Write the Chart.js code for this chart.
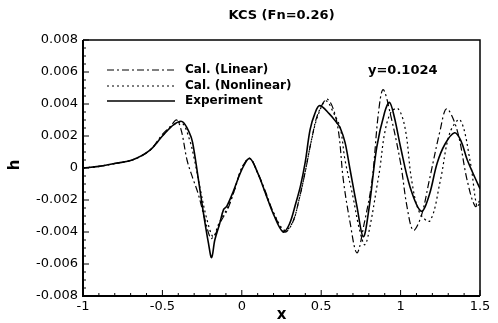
<!DOCTYPE html>
<html>
<head>
<meta charset="utf-8">
<script src="https://cdn.jsdelivr.net/npm/chart.js@4.4.1/dist/chart.umd.min.js"></script>
<style>
  html, body { margin: 0; padding: 0; background: #fff; }
  #wrap { width: 498px; height: 323px; }
</style>
</head>
<body>
<div id="wrap"><canvas id="chart"></canvas></div>
<script>
// Données (x, h)
const expX = [-1, -0.9, -0.79, -0.69, -0.58, -0.5, -0.43, -0.375, -0.33, -0.31, -0.275, -0.245, -0.21, -0.19, -0.17, -0.14, -0.115, -0.095, -0.055, 0.005, 0.05, 0.1, 0.15, 0.2, 0.26, 0.3, 0.34, 0.37, 0.4, 0.43, 0.46, 0.49, 0.55, 0.6, 0.62, 0.65, 0.68, 0.725, 0.765, 0.8, 0.85, 0.9, 0.93, 0.96, 1.0, 1.06, 1.13, 1.18, 1.23, 1.28, 1.34, 1.38, 1.42, 1.5];
const expH = [0, 0.0001, 0.0003, 0.0005, 0.0011, 0.002, 0.0027, 0.0029, 0.0022, 0.0016, -0.0006, -0.0026, -0.0047, -0.0056, -0.0045, -0.0035, -0.0026, -0.0024, -0.0015, 0, 0.0006, -0.0003, -0.0016, -0.0029, -0.004, -0.0035, -0.0022, -0.0011, 0.0004, 0.0024, 0.0034, 0.0039, 0.0034, 0.0028, 0.0025, 0.0016, 0, -0.0024, -0.0043, -0.0026, 0.0013, 0.0035, 0.0041, 0.0032, 0.0013, -0.0012, -0.0027, -0.0017, 0.0003, 0.0015, 0.0022, 0.0017, 0.0005, -0.0013];

const linX = [-1, -0.9, -0.79, -0.69, -0.58, -0.5, -0.45, -0.41, -0.38, -0.345, -0.31, -0.275, -0.23, -0.195, -0.17, -0.13, -0.09, -0.05, 0, 0.05, 0.1, 0.15, 0.2, 0.27, 0.32, 0.36, 0.4, 0.44, 0.48, 0.54, 0.6, 0.64, 0.68, 0.725, 0.77, 0.82, 0.86, 0.89, 0.935, 1.0, 1.04, 1.08, 1.13, 1.18, 1.25, 1.29, 1.355, 1.42, 1.47, 1.5];
const linH = [0, 0.0001, 0.0003, 0.0005, 0.0011, 0.0021, 0.0026, 0.003, 0.0023, 0.0005, -0.0006, -0.0016, -0.0033, -0.0044, -0.0042, -0.0033, -0.0026, -0.0015, 0, 0.0006, -0.0003, -0.0015, -0.0028, -0.004, -0.0034, -0.002, -0.0002, 0.0018, 0.0034, 0.0043, 0.0028, -0.0008, -0.0033, -0.0053, -0.0035, -0.0008, 0.0034, 0.0049, 0.0034, 0.0003, -0.0024, -0.0039, -0.003, -0.0008, 0.0024, 0.0037, 0.0024, -0.0008, -0.0024, -0.002];

const nonX = [-1, -0.9, -0.79, -0.69, -0.58, -0.5, -0.43, -0.375, -0.33, -0.3, -0.26, -0.22, -0.18, -0.15, -0.12, -0.09, -0.05, 0, 0.05, 0.1, 0.15, 0.2, 0.27, 0.32, 0.36, 0.4, 0.44, 0.48, 0.53, 0.58, 0.62, 0.65, 0.7, 0.74, 0.775, 0.81, 0.85, 0.87, 0.9, 0.94, 0.985, 1.03, 1.07, 1.12, 1.185, 1.25, 1.31, 1.375, 1.44, 1.48, 1.5];
const nonH = [0, 0.0001, 0.0003, 0.0005, 0.0011, 0.002, 0.0027, 0.0028, 0.0018, 0.0006, -0.0014, -0.0032, -0.0043, -0.0036, -0.003, -0.0025, -0.0015, 0, 0.0006, -0.0003, -0.0016, -0.0028, -0.0039, -0.0034, -0.002, -0.0002, 0.0018, 0.0033, 0.0042, 0.0034, 0.0025, 0.0005, -0.0018, -0.0038, -0.0048, -0.0035, -0.0012, 0, 0.0022, 0.0035, 0.0037, 0.0024, -0.0008, -0.0028, -0.0033, -0.0008, 0.0022, 0.003, 0.0003, -0.0024, -0.0022];

const yTicks = [-0.008, -0.006, -0.004, -0.002, 0, 0.002, 0.004, 0.006, 0.008];
const xTicks = [-1, -0.5, 0, 0.5, 1, 1.5];

const titleText = 'KCS (Fn=0.26)';
const noteText = 'y=0.1024';

function pts(xs, ys) {
    return xs.map((x, i) => ({ x: x, y: ys[i] }));
}

const FONT = 'DejaVu Sans';

const datasets = [
    { label: 'Cal. (Linear)', data: pts(linX, linH), borderDash: [7, 3, 2, 3], borderWidth: 1.2 },
    { label: 'Cal. (Nonlinear)', data: pts(nonX, nonH), borderDash: [2, 3], borderWidth: 1.2 },
    { label: 'Experiment', data: pts(expX, expH), borderDash: [], borderWidth: 1.6 }
].map(d => Object.assign(d, {
    borderColor: '#000',
    pointRadius: 0,
    tension: 0.35,
    fill: false
}));

// Cadre, graduations, titres et légende dessinés à la main
const decor = {
    id: 'decor',
    afterDraw(chart) {
        const ctx = chart.ctx;
        const a = chart.chartArea;
        const xs = chart.scales.x, ys = chart.scales.y;
        ctx.save();
        ctx.strokeStyle = '#000';
        ctx.lineWidth = 2;
        ctx.beginPath();
        ctx.moveTo(a.left, a.top); ctx.lineTo(a.left, a.bottom); ctx.lineTo(a.right, a.bottom);
        ctx.stroke();
        ctx.lineWidth = 1.5;
        ctx.beginPath();
        ctx.moveTo(a.left, a.top); ctx.lineTo(a.right, a.top); ctx.lineTo(a.right, a.bottom);
        ctx.stroke();

        // graduations vers l'intérieur
        ctx.lineWidth = 1;
        for (let v = -8; v <= 8; v += 0.5) {
            const py = ys.getPixelForValue(v / 1000);
            const len = (v % 2 === 0) ? 6 : 3;
            ctx.beginPath(); ctx.moveTo(a.left, py); ctx.lineTo(a.left + len, py); ctx.stroke();
        }
        for (let k = 0; k <= 25; k++) {
            const px = xs.getPixelForValue(-1 + k * 0.1);
            const len = (k % 5 === 0) ? 6 : 3;
            ctx.beginPath(); ctx.moveTo(px, a.bottom); ctx.lineTo(px, a.bottom - len); ctx.stroke();
        }

        ctx.fillStyle = '#000';
        ctx.textBaseline = 'middle';
        ctx.textAlign = 'center';
        ctx.font = 'bold 13px "' + FONT + '"';
        ctx.fillText(titleText, (a.left + a.right) / 2, 16);
        ctx.font = 'bold 15px "' + FONT + '"';
        ctx.fillText('x', (a.left + a.right) / 2, 315);
        ctx.save();
        ctx.translate(15, 165);
        ctx.rotate(-Math.PI / 2);
        ctx.fillText('h', 0, 0);
        ctx.restore();

        // légende
        ctx.textAlign = 'left';
        ctx.font = 'bold 12px "' + FONT + '"';
        const rows = [70, 86, 101];
        chart.data.datasets.forEach((d, i) => {
            ctx.save();
            ctx.lineWidth = d.borderWidth;
            ctx.setLineDash(d.borderDash);
            ctx.beginPath(); ctx.moveTo(107, rows[i]); ctx.lineTo(175, rows[i]); ctx.stroke();
            ctx.restore();
            ctx.fillText(d.label, 185, rows[i]);
        });
        ctx.font = 'bold 13px "' + FONT + '"';
        ctx.fillText(noteText, 368, 71);
        ctx.restore();
    }
};

new Chart(document.getElementById('chart'), {
    type: 'line',
    data: { datasets: datasets },
    options: {
        responsive: true,
        maintainAspectRatio: false,
        animation: false,
        layout: { padding: { left: 0, right: 18, top: 40, bottom: 0 } },
        plugins: { legend: { display: false }, tooltip: { enabled: false } },
        scales: {
            x: {
                type: 'linear',
                min: -1, max: 1.5,
                afterFit: s => { s.height = 27; },
                afterBuildTicks: s => { s.ticks = xTicks.map(v => ({ value: v })); },
                grid: { display: false, drawTicks: false },
                border: { display: false },
                ticks: {
                    padding: 3,
                    color: '#000',
                    font: { family: FONT, size: 13 },
                    maxRotation: 0,
                    callback: v => String(v)
                }
            },
            y: {
                type: 'linear',
                min: -0.008, max: 0.008,
                afterFit: s => { s.width = 83; },
                afterBuildTicks: s => { s.ticks = yTicks.map(v => ({ value: v })); },
                grid: { display: false, drawTicks: false },
                border: { display: false },
                ticks: {
                    padding: 5,
                    color: '#000',
                    font: { family: FONT, size: 13 },
                    callback: v => Math.abs(v) < 1e-9 ? '0' : v.toFixed(3)
                }
            }
        }
    },
    plugins: [decor]
});
</script>
</body>
</html>
